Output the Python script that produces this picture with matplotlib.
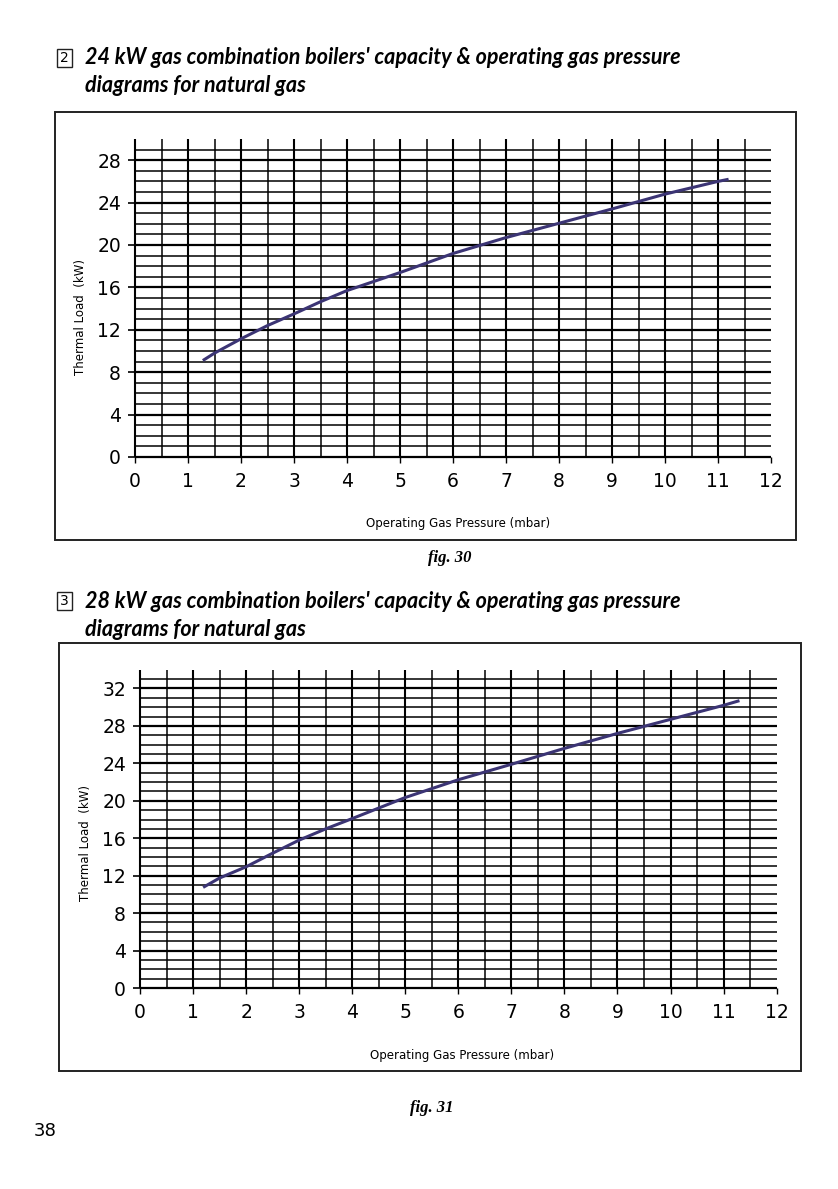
import matplotlib
matplotlib.use("Agg")
import matplotlib.pyplot as plt
import numpy as np

W, H = 838, 1189

# 24 kW boiler (fig. 30): operating gas pressure (mbar) vs thermal load (kW)
p24 = [1.28, 1.5, 2.0, 2.5, 3.0, 3.5, 4.0, 4.5, 5.0, 5.5, 6.0, 7.0, 8.0, 9.0, 10.0, 11.0, 11.2]
q24 = [9.1, 9.8, 11.15, 12.4, 13.5, 14.65, 15.7, 16.55, 17.4, 18.3, 19.2, 20.7, 22.05, 23.4, 24.8, 26.0, 26.2]

# 28 kW boiler (fig. 31)
p28 = [1.19, 1.5, 2.0, 2.5, 3.0, 3.5, 4.0, 5.0, 6.0, 7.0, 8.0, 9.0, 10.0, 11.0, 11.3]
q28 = [10.75, 11.75, 12.95, 14.4, 15.8, 17.0, 18.1, 20.35, 22.25, 23.9, 25.6, 27.2, 28.7, 30.2, 30.7]

x_ticks = list(range(0, 13))
y_ticks_24 = [0, 4, 8, 12, 16, 20, 24, 28]
y_ticks_28 = [0, 4, 8, 12, 16, 20, 24, 28, 32]

titles = ["24 kW gas combination boilers' capacity & operating gas pressure",
          "28 kW gas combination boilers' capacity & operating gas pressure"]
subtitle = "diagrams for natural gas"

LINE_C = "#3b3474"


def fx(px):
    return px / W


def fy(py):
    return 1 - py / H


def page_box(fig, x0, y0, x1, y1, lw=1.4):
    fig.add_artist(plt.Rectangle((fx(x0), fy(y1)), fx(x1) - fx(x0), fy(y0) - fy(y1),
                                 transform=fig.transFigure, fill=False, ec="#222222", lw=lw))


def chart(fig, px_left, px_right, py_zero, py_per_kw, ymax, yticks, p, q):
    ytop = py_zero - ymax * py_per_kw
    ax = fig.add_axes([fx(px_left), fy(py_zero), fx(px_right) - fx(px_left), fy(ytop) - fy(py_zero)])
    ax.set_xlim(0, 12)
    ax.set_ylim(0, ymax)
    for s in ax.spines.values():
        s.set_visible(False)

    # horizontal grid every 1 kW, heavier on labelled values
    for yv in range(0, ymax):
        lw = 1.6 if yv % 4 == 0 else 1.1
        ax.hlines(yv, 0, 12, colors="black", lw=lw, clip_on=False)
    # vertical grid every 0.5 mbar
    for xv in np.arange(0, 12, 0.5):
        lw = 1.5 if xv == int(xv) else 1.1
        ax.vlines(xv, 0, ymax, colors="black", lw=lw, clip_on=False)

    ax.plot(p, q, color=LINE_C, lw=2.2, solid_capstyle="butt", zorder=5)

    ax.set_xticks(x_ticks)
    ax.set_xticklabels([str(t) for t in x_ticks])
    ax.set_yticks(yticks)
    ax.set_yticklabels([str(t) for t in yticks])
    ax.tick_params(axis="y", direction="out", length=5, width=1.2, pad=5, labelsize=13.5)
    ax.tick_params(axis="x", direction="out", length=4, width=1.0, pad=7, labelsize=13.5)
    return ax


fig = plt.figure(figsize=(W / 100, H / 100), dpi=100)
fig.patch.set_facecolor("white")

title_font = dict(family="Lato", weight="bold", style="italic", size=15.5)

# --- section 2 -------------------------------------------------------------
page_box(fig, 57, 49, 72, 67, lw=1.0)
fig.text(fx(64.5), fy(58), "2", ha="center", va="center", fontsize=10, family="DejaVu Sans")
fig.text(fx(85), fy(58), titles[0], ha="left", va="center", **title_font)
fig.text(fx(85), fy(86), subtitle, ha="left", va="center", **title_font)

page_box(fig, 55, 112, 796, 540)
chart(fig, 135, 771, 457, 10.6, 30, y_ticks_24, p24, q24)
fig.text(fx(80), fy(317), "Thermal Load  (kW)", rotation=90, ha="center", va="center", fontsize=8.5)
fig.text(fx(458), fy(524), "Operating Gas Pressure (mbar)", ha="center", va="center", fontsize=8.5)
fig.text(fx(450), fy(558), "fig. 30", ha="center", va="center", family="Liberation Serif",
         weight="bold", style="italic", fontsize=12)

# --- section 3 -------------------------------------------------------------
page_box(fig, 57, 592, 72, 610, lw=1.0)
fig.text(fx(64.5), fy(601), "3", ha="center", va="center", fontsize=10, family="DejaVu Sans")
fig.text(fx(85), fy(601), titles[1], ha="left", va="center", **title_font)
fig.text(fx(85), fy(629), subtitle, ha="left", va="center", **title_font)

page_box(fig, 59, 643, 801, 1071)
chart(fig, 140, 776.6, 988, 9.36, 34, y_ticks_28, p28, q28)
fig.text(fx(85), fy(843), "Thermal Load  (kW)", rotation=90, ha="center", va="center", fontsize=8.5)
fig.text(fx(462), fy(1055), "Operating Gas Pressure (mbar)", ha="center", va="center", fontsize=8.5)
fig.text(fx(432), fy(1108), "fig. 31", ha="center", va="center", family="Liberation Serif",
         weight="bold", style="italic", fontsize=12)

fig.text(fx(34), fy(1131), "38", ha="left", va="center", fontsize=13)

fig.savefig("out.png", dpi=100)
